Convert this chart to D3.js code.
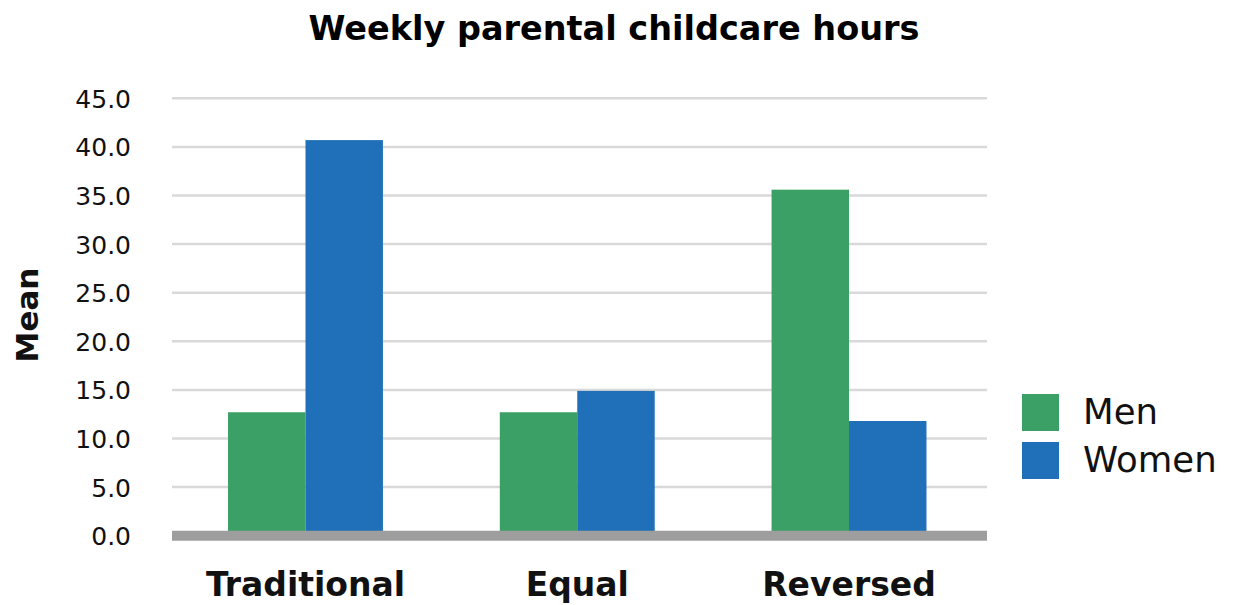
<!DOCTYPE html>
<html>
<head>
<meta charset="utf-8">
<script src="https://cdn.jsdelivr.net/npm/d3@7"></script>
<style>
  body { margin: 0; background: #fff; }
  svg { display: block; font-family: "DejaVu Sans", sans-serif; }
</style>
</head>
<body>
<svg id="chart" width="1236" height="605"></svg>
<script>
let categories = ['Traditional', 'Equal', 'Reversed']
let seriesNames = ['Men', 'Women']
let men = [12.7, 12.7, 35.6]
let women = [40.7, 14.9, 11.8]
let yTicks = [0, 5, 10, 15, 20, 25, 30, 35, 40, 45]
let colors = ['#3aa066', '#1f70b9']

let svg = d3.select('#chart')

let plot = {'left': 172, 'right': 987, 'top': 98.3, 'bottom': 535.7}

// bands centred on the groups (first group sits a bit left of the plot's thirds)
let x = d3.scaleBand()
  .domain(categories)
  .range([169.6, 984.9])
  .paddingInner(0.43)
  .paddingOuter(0.215)

let xs = d3.scaleBand()
  .domain(seriesNames)
  .range([0, x.bandwidth()])

let y = d3.scaleLinear()
  .domain([0, 45])
  .range([plot.bottom, plot.top])

// gridlines
svg.append('g')
  .selectAll('line')
  .data(yTicks.slice(1))
  .join('line')
  .attr('x1', plot.left)
  .attr('x2', plot.right)
  .attr('y1', d => y(d))
  .attr('y2', d => y(d))
  .style('stroke', '#d9d9d9')
  .style('stroke-width', 2.5)

// y axis labels
let yAxis = svg.append('g')
  .attr('transform', `translate(131,0)`)
  .call(d3.axisLeft(y).tickValues(yTicks).tickFormat(d3.format('.1f')).tickSize(0).tickPadding(0))
yAxis.select('.domain').remove()
yAxis.selectAll('text')
  .style('font-family', '"DejaVu Sans", sans-serif')
  .style('font-size', '25px')
  .style('fill', '#111')
  .attr('dy', '0.36em')

// bars
let data = categories.map((c, i) => ({'cat': c, 'vals': [men[i], women[i]]}))
svg.append('g')
  .selectAll('g')
  .data(data)
  .join('g')
  .attr('transform', d => `translate(${x(d.cat)},0)`)
  .selectAll('rect')
  .data(d => d.vals.map((v, j) => ({'s': seriesNames[j], 'v': v, 'j': j})))
  .join('rect')
  .attr('x', d => xs(d.s))
  .attr('width', xs.bandwidth())
  .attr('y', d => y(d.v))
  .attr('height', d => y(0) - y(d.v))
  .style('fill', d => colors[d.j])

// baseline
svg.append('line')
  .attr('x1', plot.left)
  .attr('x2', plot.right)
  .attr('y1', y(0))
  .attr('y2', y(0))
  .style('stroke', '#9e9e9e')
  .style('stroke-width', 10)

// category labels
svg.append('g')
  .selectAll('text')
  .data(categories)
  .join('text')
  .attr('x', d => x(d) + x.bandwidth() / 2)
  .attr('y', 596)
  .attr('text-anchor', 'middle')
  .style('font-size', '33px')
  .style('font-weight', 700)
  .style('fill', '#111')
  .text(d => d)

// title
svg.append('text')
  .attr('x', 614)
  .attr('y', 40)
  .attr('text-anchor', 'middle')
  .style('font-size', '33.5px')
  .style('font-weight', 700)
  .style('fill', '#000')
  .text('Weekly parental childcare hours')

// y axis title
svg.append('text')
  .attr('transform', 'translate(38,315) rotate(-90)')
  .attr('text-anchor', 'middle')
  .style('font-size', '31px')
  .style('font-weight', 700)
  .style('fill', '#111')
  .text('Mean')

// legend
let legend = svg.append('g')
  .selectAll('g')
  .data(seriesNames)
  .join('g')
  .attr('transform', (d, i) => `translate(1022,${394 + i * 48})`)
legend.append('rect')
  .attr('width', 37)
  .attr('height', 37)
  .style('fill', (d, i) => colors[i])
legend.append('text')
  .attr('x', 61)
  .attr('y', 30)
  .style('font-size', '35.5px')
  .style('fill', '#111')
  .text(d => d)
</script>
</body>
</html>
